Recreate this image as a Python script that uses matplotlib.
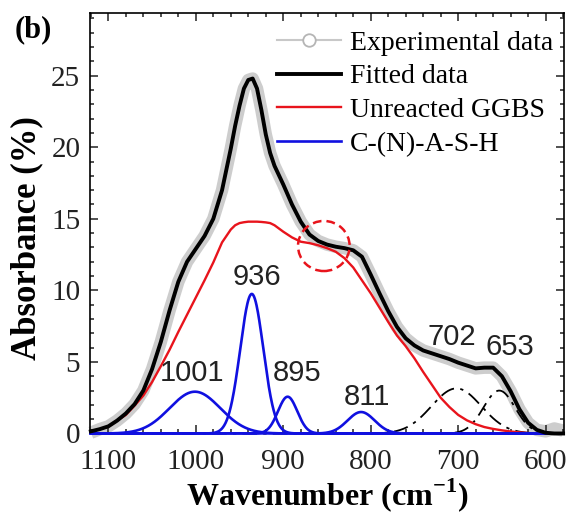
import numpy as np
import matplotlib
matplotlib.use("Agg")
import matplotlib.pyplot as plt
from matplotlib.lines import Line2D
from matplotlib.patches import Ellipse
from matplotlib.ticker import MultipleLocator

plt.rcParams["font.family"] = "Liberation Serif"
plt.rcParams["mathtext.fontset"] = "custom"
plt.rcParams["mathtext.rm"] = "Liberation Serif"
plt.rcParams["mathtext.bf"] = "Liberation Serif:bold"

# Spectrum sampled in cm-1 (finer steps around the main band)
wavenumber = [1120, 1110, 1100, 1090, 1080, 1070, 1060, 1050, 1040, 1030,
              1020, 1010, 1000, 990, 980, 970, 960,
              955, 950, 945, 940, 935, 930, 925, 920, 915, 910,
              900, 890, 880, 870, 860, 850, 840, 830, 820, 810,
              800, 790, 780, 770, 760, 750, 740, 730, 720, 710,
              700, 690, 680, 670, 660, 650, 640, 630, 620, 610,
              600, 590, 580]

experimental = [0.05, 0.30, 0.50, 0.90, 1.40, 2.05, 3.00, 4.50, 6.40, 8.60,
                10.60, 12.00, 12.90, 13.80, 15.00, 17.00, 19.90,
                21.50, 22.90, 24.10, 24.70, 24.80, 24.10, 22.60, 20.90, 19.60, 18.70,
                17.40, 16.00, 14.80, 13.90, 13.45, 13.20, 13.05, 12.95, 12.80, 12.35,
                11.10, 9.80, 8.55, 7.45, 6.65, 6.15, 5.80, 5.60, 5.40, 5.20,
                4.95, 4.75, 4.55, 4.60, 4.60, 4.00, 2.95, 1.70, 0.75, 0.25,
                0.15, 0.35, 0.20]

fitted = [0.15, 0.30, 0.50, 0.90, 1.40, 2.05, 3.00, 4.50, 6.40, 8.60,
          10.60, 12.00, 12.90, 13.80, 15.00, 17.00, 19.90,
          21.50, 22.90, 24.10, 24.70, 24.80, 24.10, 22.60, 20.90, 19.60, 18.70,
          17.40, 16.00, 14.80, 13.90, 13.45, 13.20, 13.05, 12.95, 12.80, 12.35,
          11.10, 9.80, 8.55, 7.45, 6.65, 6.15, 5.80, 5.60, 5.40, 5.20,
          4.95, 4.75, 4.55, 4.60, 4.60, 4.00, 2.95, 1.70, 0.75, 0.25,
          0.05, 0.00, 0.00]

unreacted_ggbs = [0.15, 0.30, 0.48, 0.90, 1.30, 1.95, 2.65, 3.60, 4.70, 5.85,
                  7.10, 8.30, 9.50, 10.70, 11.95, 13.35, 14.25,
                  14.55, 14.70, 14.76, 14.80, 14.80, 14.80, 14.78, 14.75, 14.70, 14.55,
                  14.10, 13.70, 13.40, 13.30, 13.15, 12.95, 12.70, 12.25, 11.60, 10.70,
                  9.80, 8.80, 7.80, 6.85, 6.10, 5.25, 4.30, 3.40, 2.50, 1.85,
                  1.30, 0.92, 0.65, 0.45, 0.32, 0.22, 0.14, 0.08, 0.03, 0.00,
                  0.00, 0.00, 0.00]

# Gaussian components: C-(N)-A-S-H bands and the two low-wavenumber bands
cash_center = [1001, 936, 895, 811]
cash_height = [2.92, 9.75, 2.57, 1.50]
cash_sigma = [29.0, 13.2, 11.0, 15.5]

low_center = [702, 653]
low_height = [3.15, 3.0]
low_sigma = [28.5, 18.0]

label_pos = {"1001": (1004, 4.25), "936": (930, 10.9), "895": (884, 4.25),
             "811": (804, 2.55), "702": (707, 6.75), "653": (641, 6.05)}


def gaussian(x, center, height, sigma):
    return height * np.exp(-(x - center) ** 2 / (2 * sigma ** 2))


x = np.linspace(1120, 580, 1081)

fig = plt.figure(figsize=(5.71, 5.25), dpi=100)
ax = fig.add_axes([0.1576, 0.1743, 0.8301, 0.8015])

ax.plot(wavenumber, experimental, color="#cdcdcd", lw=9,
        solid_capstyle="butt", solid_joinstyle="round", clip_on=False, zorder=1)

for c, h, s in zip(low_center, low_height, low_sigma):
    ax.plot(x, gaussian(x, c, h, s), color="black", lw=1.3,
            dashes=(8, 3.5, 1.8, 3.5), clip_on=False, zorder=2)

ax.plot(wavenumber, unreacted_ggbs, color="#e8141c", lw=1.7, clip_on=False, zorder=3)

for c, h, s in zip(cash_center, cash_height, cash_sigma):
    ax.plot(x, gaussian(x, c, h, s), color="#1010e0", lw=1.9, clip_on=False, zorder=4)

ax.plot(wavenumber, fitted, color="black", lw=2.8, solid_joinstyle="round",
        clip_on=False, zorder=5)

# dashed ring marking the shoulder near 850 cm-1
ax.add_patch(Ellipse((853.6, 13.1), 59, 3.5, fill=False, ec="#e8141c",
                     lw=1.8, ls=(0, (3.5, 2)), zorder=6))

for txt, (lx, ly) in label_pos.items():
    ax.text(lx, ly, txt, ha="center", va="center", fontsize=21,
            family="Liberation Sans", color="#222222")

ax.set_xlim(1121, 579)
ax.set_ylim(0, 29.4)
ax.xaxis.set_major_locator(MultipleLocator(100))
ax.xaxis.set_minor_locator(MultipleLocator(20))
ax.yaxis.set_major_locator(MultipleLocator(5))
ax.yaxis.set_minor_locator(MultipleLocator(1))
ax.tick_params(which="both", direction="in", top=True, right=True,
               width=1.1, labelsize=21, colors="#222222")
ax.tick_params(which="major", length=6)
ax.tick_params(which="minor", length=3)
ax.tick_params(axis="x", pad=11)
ax.tick_params(axis="y", pad=7)
for sp in ax.spines.values():
    sp.set_linewidth(1.2)

ax.set_xlabel(r"Wavenumber (cm$^{\mathbf{-1}}$)", fontsize=23,
              fontweight="bold", labelpad=1)
ax.set_ylabel("Absorbance (%)", fontsize=25, fontweight="bold")
ax.yaxis.set_label_coords(-0.098, 0.465)

handles = [
    Line2D([], [], color="#c8c8c8", lw=1.5, marker="o", ms=9,
           mfc="white", mec="#b5b5b5", mew=1.3),
    Line2D([], [], color="black", lw=2.8),
    Line2D([], [], color="#e8141c", lw=1.7),
    Line2D([], [], color="#1010e0", lw=1.9),
]
labels = ["Experimental data", "Fitted data", "Unreacted GGBS", "C-(N)-A-S-H"]
ax.legend(handles, labels, loc="upper right", frameon=False, fontsize=20,
          handlelength=2.3, handletextpad=0.3, labelspacing=0.3,
          borderaxespad=0.1, borderpad=0.3, bbox_to_anchor=(1.0, 0.985))

fig.text(0.026, 0.943, "(b)", fontsize=22, fontweight="bold", va="center", ha="left")

fig.savefig("out.png", dpi=100)
